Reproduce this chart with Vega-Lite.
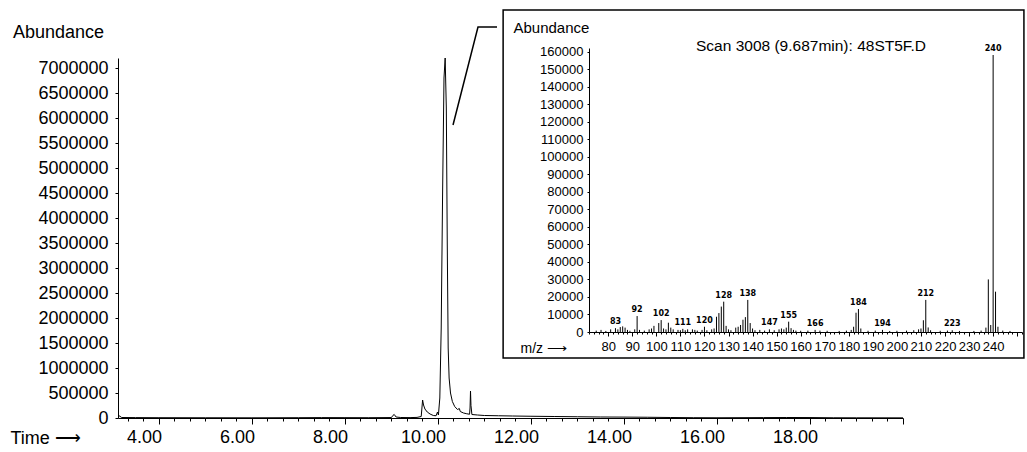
{
  "$schema": "https://vega.github.io/schema/vega-lite/v6.json",
  "width": 1027,
  "height": 452,
  "padding": 0,
  "autosize": {"type": "none"},
  "background": "white",
  "config": {
    "view": {"stroke": null},
    "font": "Liberation Sans",
    "axis": {"grid": false, "domainColor": "black", "tickColor": "black", "labelColor": "black", "titleColor": "black", "labelFont": "Liberation Sans", "titleFont": "Liberation Sans", "titleFontWeight": "normal", "labelOverlap": false, "labelFlush": false, "labelBound": false}
  },
  "datasets": {
    "chrom": [
      {"time": 3.12, "abundance": 60000}, {"time": 3.2, "abundance": 10000}, {"time": 3.5, "abundance": 8000},
      {"time": 4.0, "abundance": 6000}, {"time": 5.0, "abundance": 5000}, {"time": 6.0, "abundance": 4000},
      {"time": 7.0, "abundance": 6000}, {"time": 7.5, "abundance": 8000}, {"time": 8.0, "abundance": 7000},
      {"time": 8.5, "abundance": 6000}, {"time": 9.0, "abundance": 9000}, {"time": 9.03, "abundance": 50000},
      {"time": 9.06, "abundance": 70000}, {"time": 9.1, "abundance": 20000}, {"time": 9.2, "abundance": 10000},
      {"time": 9.4, "abundance": 8000}, {"time": 9.55, "abundance": 12000}, {"time": 9.64, "abundance": 30000},
      {"time": 9.67, "abundance": 360000}, {"time": 9.69, "abundance": 260000}, {"time": 9.72, "abundance": 180000},
      {"time": 9.77, "abundance": 120000}, {"time": 9.83, "abundance": 80000}, {"time": 9.9, "abundance": 50000},
      {"time": 9.96, "abundance": 45000}, {"time": 9.99, "abundance": 120000}, {"time": 10.01, "abundance": 60000},
      {"time": 10.04, "abundance": 400000}, {"time": 10.07, "abundance": 1800000}, {"time": 10.1, "abundance": 4500000},
      {"time": 10.13, "abundance": 6800000}, {"time": 10.155, "abundance": 7200000}, {"time": 10.18, "abundance": 6200000},
      {"time": 10.2, "abundance": 3500000}, {"time": 10.22, "abundance": 1400000}, {"time": 10.24, "abundance": 800000},
      {"time": 10.27, "abundance": 500000}, {"time": 10.31, "abundance": 330000}, {"time": 10.36, "abundance": 230000},
      {"time": 10.42, "abundance": 170000}, {"time": 10.46, "abundance": 190000}, {"time": 10.48, "abundance": 130000},
      {"time": 10.55, "abundance": 100000}, {"time": 10.62, "abundance": 85000}, {"time": 10.68, "abundance": 75000},
      {"time": 10.69, "abundance": 200000}, {"time": 10.7, "abundance": 540000}, {"time": 10.71, "abundance": 250000},
      {"time": 10.73, "abundance": 70000}, {"time": 10.85, "abundance": 60000}, {"time": 11.0, "abundance": 50000},
      {"time": 11.3, "abundance": 45000}, {"time": 11.6, "abundance": 40000}, {"time": 12.0, "abundance": 35000},
      {"time": 12.5, "abundance": 30000}, {"time": 13.0, "abundance": 25000}, {"time": 13.5, "abundance": 20000},
      {"time": 14.0, "abundance": 18000}, {"time": 14.5, "abundance": 15000}, {"time": 15.0, "abundance": 10000},
      {"time": 15.5, "abundance": 6000}, {"time": 16.0, "abundance": 5000}, {"time": 17.0, "abundance": 8000},
      {"time": 17.5, "abundance": 10000}, {"time": 18.0, "abundance": 9000}, {"time": 18.5, "abundance": 5000},
      {"time": 19.0, "abundance": 4000}, {"time": 20.0, "abundance": 3000}
    ],
    "connector": [
      {"time": 10.324, "abundance": 5860000},
      {"time": 10.861, "abundance": 7820000},
      {"time": 11.27, "abundance": 7820000}
    ],
    "box": [
      {"mz": 36.3, "mz2": 252.8, "ab": 183700, "ab2": -14800}
    ],
    "spectrum": [
      {"mz": 75, "ab": 800}, {"mz": 77, "ab": 1200}, {"mz": 79, "ab": 600}, {"mz": 81, "ab": 1500},
      {"mz": 83, "ab": 2200, "label": "83"}, {"mz": 84, "ab": 1500}, {"mz": 85, "ab": 2800}, {"mz": 86, "ab": 3200},
      {"mz": 87, "ab": 2500}, {"mz": 88, "ab": 1200}, {"mz": 89, "ab": 700}, {"mz": 91, "ab": 1500},
      {"mz": 92, "ab": 9100, "label": "92"}, {"mz": 93, "ab": 1200}, {"mz": 95, "ab": 800}, {"mz": 97, "ab": 1500},
      {"mz": 98, "ab": 2000}, {"mz": 99, "ab": 3500}, {"mz": 101, "ab": 5100}, {"mz": 102, "ab": 6800, "label": "102"},
      {"mz": 103, "ab": 2000}, {"mz": 104, "ab": 1500}, {"mz": 105, "ab": 5300}, {"mz": 106, "ab": 2500},
      {"mz": 107, "ab": 1500}, {"mz": 109, "ab": 1200}, {"mz": 110, "ab": 1000}, {"mz": 111, "ab": 1800, "label": "111"},
      {"mz": 112, "ab": 1000}, {"mz": 113, "ab": 1500}, {"mz": 115, "ab": 1500}, {"mz": 116, "ab": 1200},
      {"mz": 117, "ab": 800}, {"mz": 119, "ab": 1200}, {"mz": 120, "ab": 3000, "label": "120"}, {"mz": 121, "ab": 1000},
      {"mz": 123, "ab": 1500}, {"mz": 124, "ab": 2000}, {"mz": 125, "ab": 8700}, {"mz": 126, "ab": 10800},
      {"mz": 127, "ab": 14500}, {"mz": 128, "ab": 17300, "label": "128"}, {"mz": 129, "ab": 3500}, {"mz": 130, "ab": 1500},
      {"mz": 131, "ab": 1000}, {"mz": 133, "ab": 2500}, {"mz": 134, "ab": 3000}, {"mz": 135, "ab": 4000},
      {"mz": 136, "ab": 7000}, {"mz": 137, "ab": 8500}, {"mz": 138, "ab": 18300, "label": "138"}, {"mz": 139, "ab": 5100},
      {"mz": 140, "ab": 2000}, {"mz": 141, "ab": 1000}, {"mz": 143, "ab": 1200}, {"mz": 145, "ab": 800},
      {"mz": 147, "ab": 1500, "label": "147"}, {"mz": 149, "ab": 1000}, {"mz": 151, "ab": 1500}, {"mz": 152, "ab": 2000},
      {"mz": 153, "ab": 1500}, {"mz": 154, "ab": 2500}, {"mz": 155, "ab": 5900, "label": "155"}, {"mz": 156, "ab": 2200},
      {"mz": 157, "ab": 1200}, {"mz": 158, "ab": 800}, {"mz": 160, "ab": 700}, {"mz": 163, "ab": 800},
      {"mz": 166, "ab": 1200, "label": "166"}, {"mz": 168, "ab": 800}, {"mz": 171, "ab": 700}, {"mz": 176, "ab": 600},
      {"mz": 179, "ab": 800}, {"mz": 181, "ab": 1200}, {"mz": 182, "ab": 3000}, {"mz": 183, "ab": 11000},
      {"mz": 184, "ab": 13100, "label": "184"}, {"mz": 185, "ab": 2000}, {"mz": 188, "ab": 700}, {"mz": 191, "ab": 800},
      {"mz": 194, "ab": 1200, "label": "194"}, {"mz": 197, "ab": 600}, {"mz": 200, "ab": 700}, {"mz": 204, "ab": 800},
      {"mz": 207, "ab": 1000}, {"mz": 209, "ab": 1500}, {"mz": 210, "ab": 2000}, {"mz": 211, "ab": 6700},
      {"mz": 212, "ab": 18300, "label": "212"}, {"mz": 213, "ab": 2600}, {"mz": 214, "ab": 1000}, {"mz": 218, "ab": 700},
      {"mz": 221, "ab": 800}, {"mz": 223, "ab": 1000, "label": "223"}, {"mz": 226, "ab": 600}, {"mz": 232, "ab": 600},
      {"mz": 235, "ab": 800}, {"mz": 237, "ab": 2500}, {"mz": 238, "ab": 30000}, {"mz": 239, "ab": 4000},
      {"mz": 240, "ab": 158000, "label": "240"}, {"mz": 241, "ab": 23000}, {"mz": 242, "ab": 3000}, {"mz": 244, "ab": 800},
      {"mz": 247, "ab": 600}
    ]
  },
  "layer": [
    {
      "layer": [
        {
          "data": {"name": "chrom"},
          "mark": {"type": "line", "color": "black", "strokeWidth": 1},
          "encoding": {
            "x": {
              "field": "time", "type": "quantitative",
              "scale": {"domain": [3.12, 20], "range": [118, 903], "nice": false, "zero": false},
              "axis": {
                "orient": "bottom", "offset": -34, "labelOverlap": false, "tickCount": 1000,
                "values": [3.3333,3.6667,4,4.3333,4.6667,5,5.3333,5.6667,6,6.3333,6.6667,7,7.3333,7.6667,8,8.3333,8.6667,9,9.3333,9.6667,10,10.3333,10.6667,11,11.3333,11.6667,12,12.3333,12.6667,13,13.3333,13.6667,14,14.3333,14.6667,15,15.3333,15.6667,16,16.3333,16.6667,17,17.3333,17.6667,18,18.3333,18.6667,19,19.3333,19.6667,20],
                "labelExpr": "abs(datum.value - round(datum.value)) < 0.01 && round(datum.value) % 2 == 0 && datum.value < 19 ? format(datum.value, '.2f') : ''",
                "labelFontSize": 18, "labelOffset": -15, "labelPadding": 4,
                "tickSize": {"condition": {"test": "abs(datum.value - round(datum.value)) < 0.01 && round(datum.value) % 2 == 0", "value": 6}, "value": 3},
                "title": "Time \u27f6", "titleFontSize": 18, "titleX": 10, "titleY": 20,
                "titleAlign": "left", "titleBaseline": "middle", "titleAngle": 0
              }
            },
            "y": {
              "field": "abundance", "type": "quantitative",
              "scale": {"domain": [0, 7200000], "range": [418, 58], "nice": false},
              "axis": {
                "orient": "left", "offset": -118, "labelOverlap": false, "tickCount": 1000,
                "values": [0,500000,1000000,1500000,2000000,2500000,3000000,3500000,4000000,4500000,5000000,5500000,6000000,6500000,7000000],
                "format": "d", "labelFontSize": 18, "tickSize": 3, "labelPadding": 7,
                "title": "Abundance", "titleAngle": 0, "titleX": -60, "titleY": 32,
                "titleAlign": "center", "titleBaseline": "middle", "titleFontSize": 18
              }
            }
          }
        },
        {
          "data": {"name": "connector"},
          "mark": {"type": "line", "color": "black", "strokeWidth": 1.5},
          "encoding": {
            "x": {"field": "time", "type": "quantitative", "scale": {"domain": [3.12, 20], "range": [118, 903], "nice": false, "zero": false}},
            "y": {"field": "abundance", "type": "quantitative", "scale": {"domain": [0, 7200000], "range": [418, 58], "nice": false}}
          }
        }
      ]
    },
    {
      "layer": [
        {
          "data": {"name": "box"},
          "mark": {"type": "rect", "fill": "white", "stroke": "black", "strokeWidth": 1.5},
          "encoding": {
            "x": {"field": "mz", "type": "quantitative", "scale": {"domain": [72, 252], "range": [589, 1022], "nice": false, "zero": false}},
            "x2": {"field": "mz2"},
            "y": {"field": "ab", "type": "quantitative", "scale": {"domain": [0, 162000], "range": [332, 48], "nice": false}},
            "y2": {"field": "ab2"}
          }
        },
        {
          "data": {"name": "spectrum"},
          "mark": {"type": "rule", "color": "black", "strokeWidth": 1},
          "encoding": {
            "x": {
              "field": "mz", "type": "quantitative",
              "scale": {"domain": [72, 252], "range": [589, 1022], "nice": false, "zero": false},
              "axis": {
                "orient": "bottom", "offset": -120, "zindex": 2, "labelOverlap": false, "tickCount": 1000, "format": "d",
                "values": [72,74,76,78,80,82,84,86,88,90,92,94,96,98,100,102,104,106,108,110,112,114,116,118,120,122,124,126,128,130,132,134,136,138,140,142,144,146,148,150,152,154,156,158,160,162,164,166,168,170,172,174,176,178,180,182,184,186,188,190,192,194,196,198,200,202,204,206,208,210,212,214,216,218,220,222,224,226,228,230,232,234,236,238,240,242,244,246,248,250,252],
                "labelExpr": "datum.value % 10 == 0 && datum.value >= 80 && datum.value <= 240 ? format(datum.value, 'd') : ''",
                "labelFontSize": 13, "labelPadding": 4,
                "tickSize": {"condition": {"test": "datum.value % 10 == 0", "value": 4}, "value": 2},
                "title": "m/z \u27f6", "titleFontSize": 14, "titleX": 520, "titleY": 16,
                "titleAlign": "left", "titleBaseline": "middle", "titleAngle": 0
              }
            },
            "y": {
              "field": "ab", "type": "quantitative",
              "scale": {"domain": [0, 162000], "range": [332, 48], "nice": false},
              "axis": {
                "orient": "left", "offset": -589, "zindex": 2, "labelOverlap": false, "tickCount": 1000,
                "values": [0,10000,20000,30000,40000,50000,60000,70000,80000,90000,100000,110000,120000,130000,140000,150000,160000],
                "format": "d", "labelFontSize": 13, "tickSize": 2, "labelPadding": 4,
                "title": "Abundance", "titleFontSize": 15, "titleAngle": 0, "titleX": -76, "titleY": 27,
                "titleAlign": "left", "titleBaseline": "middle"
              }
            },
            "y2": {"datum": 0}
          }
        },
        {
          "data": {"name": "spectrum"},
          "transform": [{"filter": "datum.label != null"}],
          "mark": {"type": "text", "font": "DejaVu Sans", "fontSize": 8, "fontWeight": "bold", "baseline": "bottom", "dy": -2, "color": "black"},
          "encoding": {
            "x": {"field": "mz", "type": "quantitative", "scale": {"domain": [72, 252], "range": [589, 1022], "nice": false, "zero": false}},
            "y": {"field": "ab", "type": "quantitative", "scale": {"domain": [0, 162000], "range": [332, 48], "nice": false}},
            "text": {"field": "label"}
          }
        },
        {
          "data": {"values": [{}]},
          "mark": {"type": "text", "font": "Liberation Sans", "fontSize": 15.5, "align": "center", "baseline": "middle", "color": "black"},
          "encoding": {
            "x": {"datum": 164.3, "type": "quantitative", "scale": {"domain": [72, 252], "range": [589, 1022], "nice": false, "zero": false}},
            "y": {"datum": 163000, "type": "quantitative", "scale": {"domain": [0, 162000], "range": [332, 48], "nice": false}},
            "text": {"value": "Scan 3008 (9.687min): 48ST5F.D"}
          }
        }
      ]
    }
  ],
  "resolve": {"scale": {"x": "independent", "y": "independent"}}
}
